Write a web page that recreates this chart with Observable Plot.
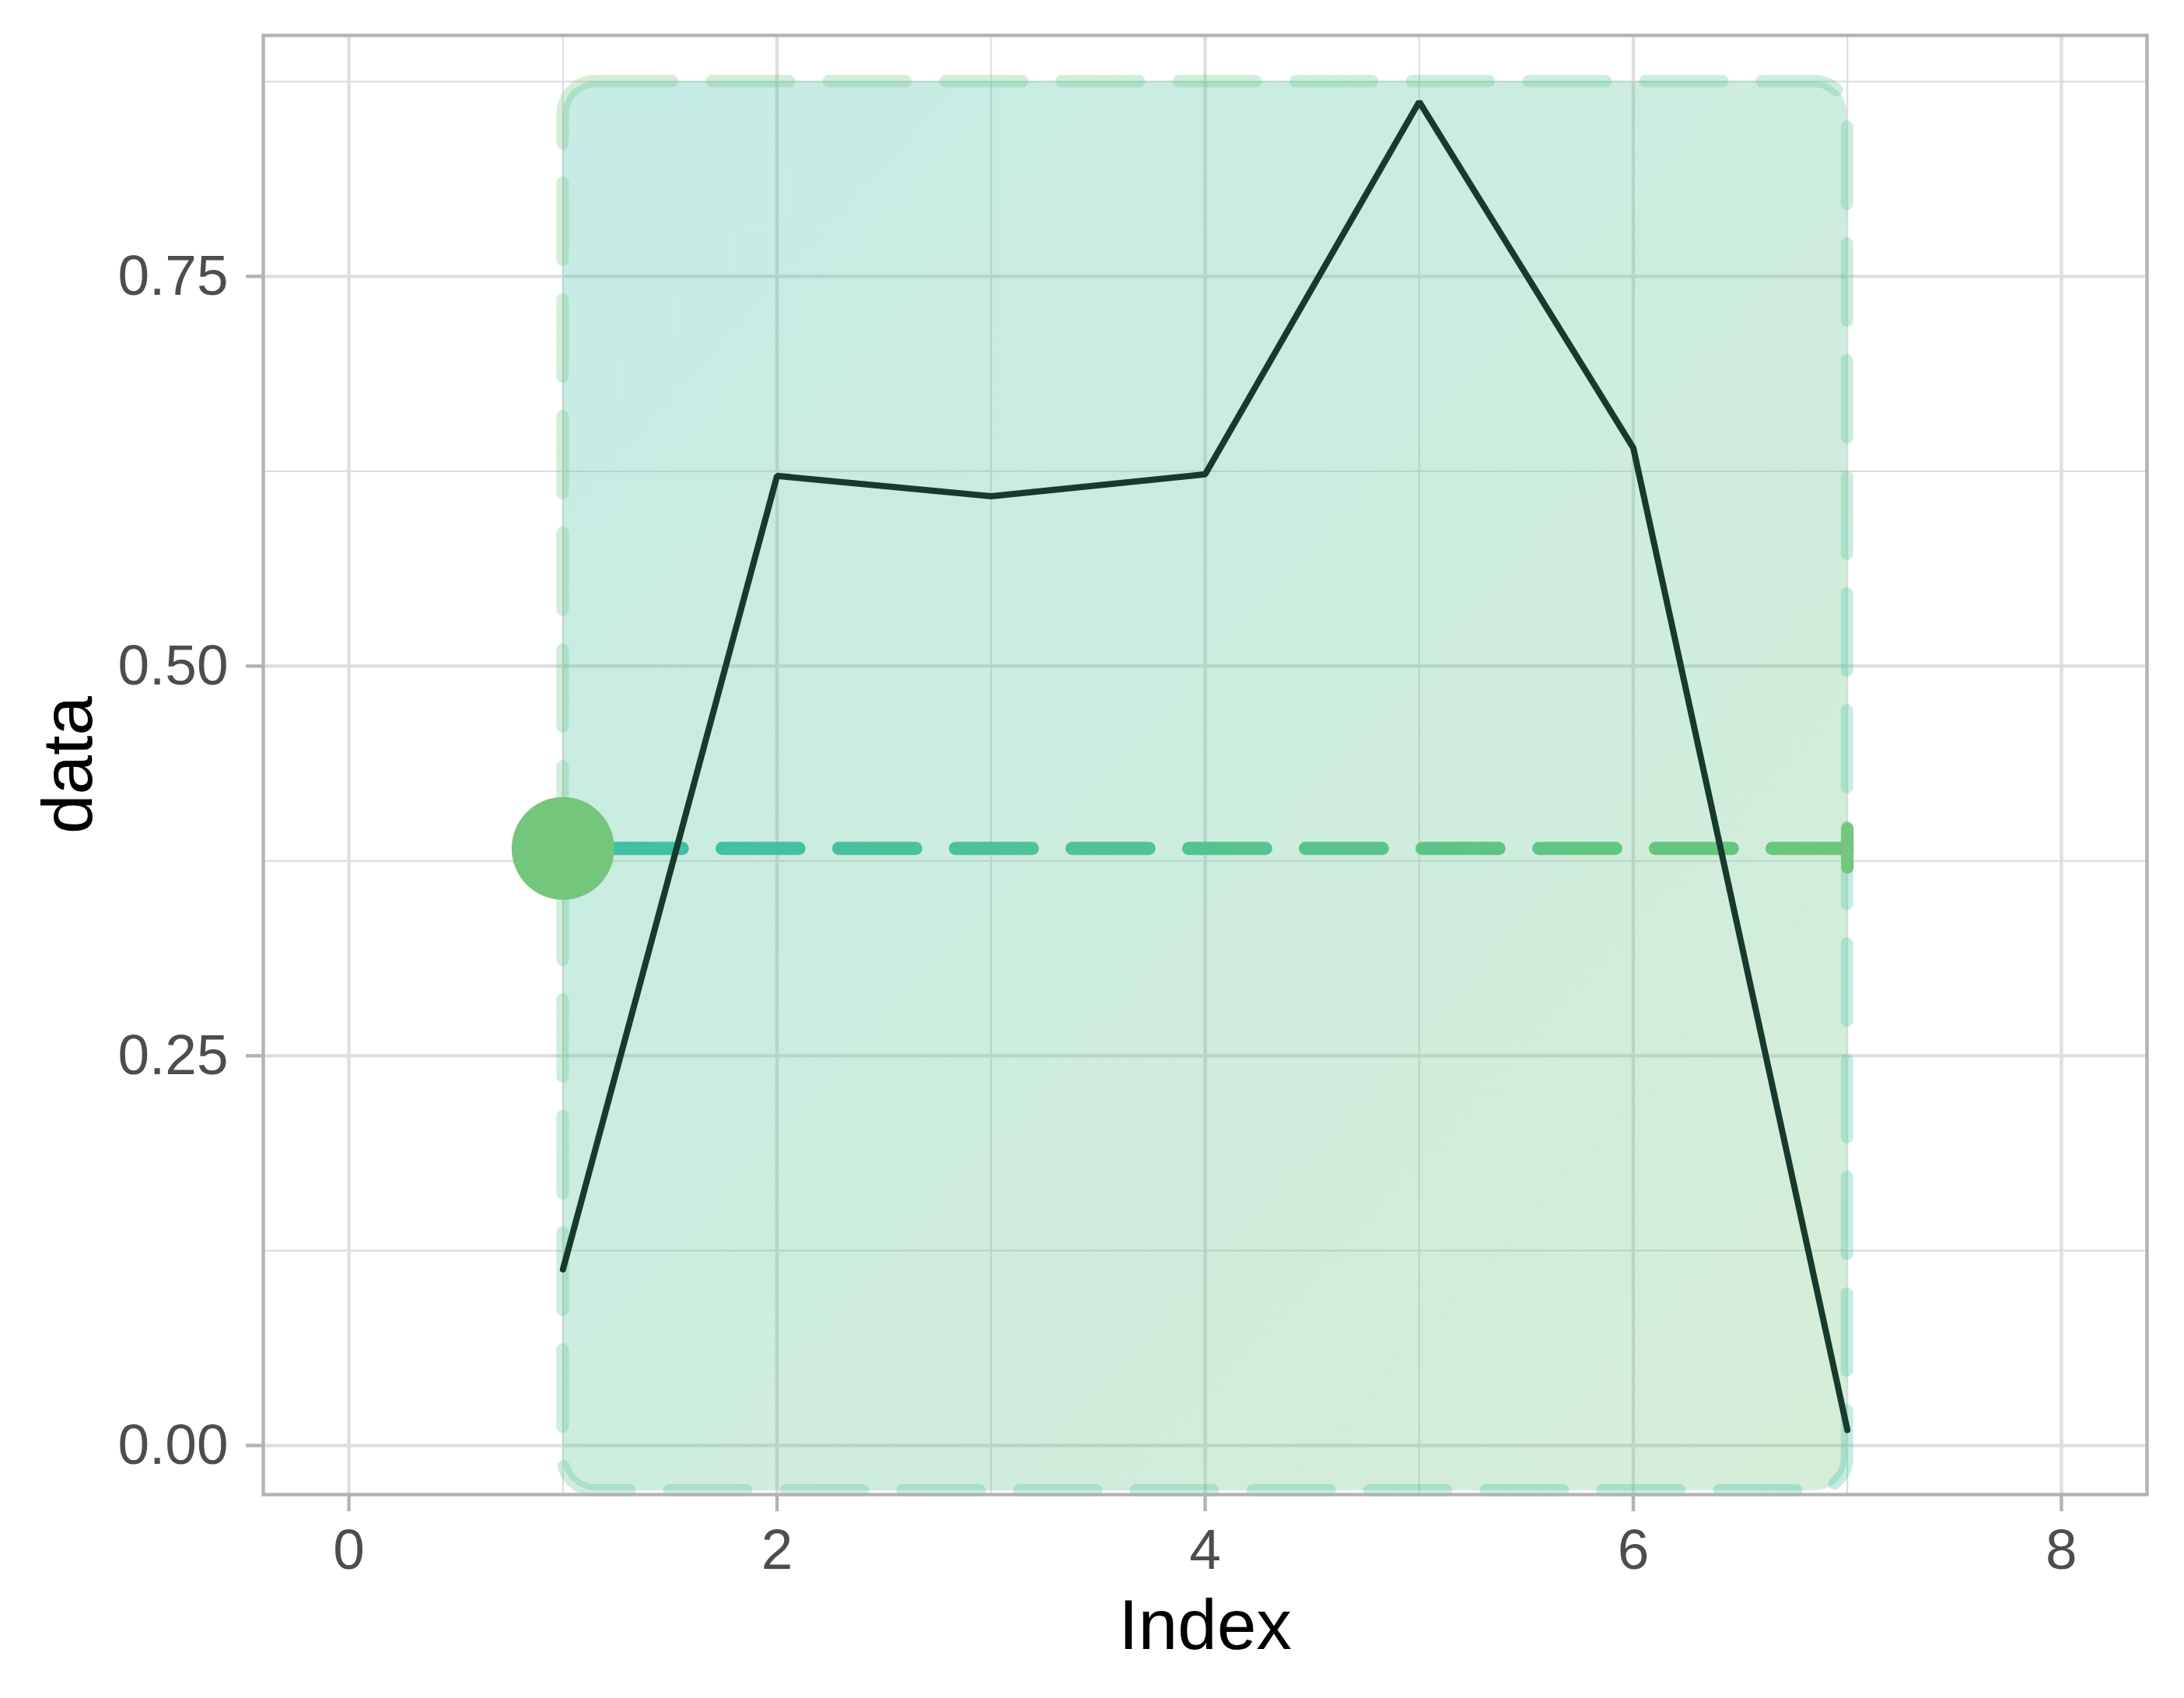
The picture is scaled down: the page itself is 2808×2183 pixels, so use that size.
<!DOCTYPE html>
<html>
<head>
<meta charset="utf-8">
<script src="https://cdn.jsdelivr.net/npm/d3@7"></script>
<script src="https://cdn.jsdelivr.net/npm/@observablehq/plot@0.6"></script>
<style>
  html, body { margin: 0; padding: 0; background: #ffffff; }
  #chart { width: 2808px; height: 2183px; }
</style>
</head>
<body>
<div id="chart"></div>
<script>
// ---- data ----
const index = [1, 2, 3, 4, 5, 6, 7];
const values = [0.113, 0.622, 0.609, 0.623, 0.862, 0.640, 0.010];

const xTicks = [0, 2, 4, 6, 8];
const xMinor = [1, 3, 5, 7];
const yTicks = [0, 0.25, 0.5, 0.75];
const yMinor = [0.125, 0.375, 0.625, 0.875];
const xDomain = [-0.4, 8.4];
const yDomain = [-0.0315, 0.9046];

// highlighted band (rounded rectangle)
const bandX = [1, 7];
const bandY = [-0.029, 0.875];

// horizontal dashed segment with point start and bar end
const segX = [1, 7];
const segY = [0.383, 0.383];
const capHalf = [0.0125];

const xLabel = "Index";
const yLabel = "data";

// ---- tables built from the arrays ----
const lineData = index.map((x, i) => ({x, y: values[i]}));
const bandData = [{x1: bandX[0], x2: bandX[1], y1: bandY[0], y2: bandY[1]}];
const segData = [{x1: segX[0], x2: segX[1], y1: segY[0], y2: segY[1]}];
const startPoint = [{x: segX[0], y: segY[0]}];
const endCap = [{x: segX[1], y1: segY[1] - capHalf[0], y2: segY[1] + capHalf[0]}];

const grid = "#dedede";
const border = "#b3b3b3";
const font = "'Liberation Sans', Arial, Helvetica, sans-serif";

const plot = Plot.plot({
  width: 2808,
  height: 2183,
  marginLeft: 338,
  marginRight: 48,
  marginTop: 45,
  marginBottom: 262,
  style: {fontFamily: font, background: "#ffffff", overflow: "visible"},
  x: {domain: xDomain, ticks: xTicks},
  y: {domain: yDomain, ticks: yTicks},
  marks: [
    Plot.gridX(xMinor, {stroke: grid, strokeOpacity: 1, strokeWidth: 2.2}),
    Plot.gridY(yMinor, {stroke: grid, strokeOpacity: 1, strokeWidth: 2.2}),
    Plot.gridX(xTicks, {stroke: grid, strokeOpacity: 1, strokeWidth: 4.4}),
    Plot.gridY(yTicks, {stroke: grid, strokeOpacity: 1, strokeWidth: 4.4}),
    Plot.rect(bandData, {
      x1: "x1", x2: "x2", y1: "y1", y2: "y2",
      rx: 42, ry: 42,
      fill: "url(#bandFill)", fillOpacity: 0.3,
      stroke: "url(#bandStroke)", strokeOpacity: 0.3,
      strokeWidth: 16, strokeDasharray: "99,51", strokeLinecap: "round"
    }),
    Plot.link(segData, {
      x1: "x1", x2: "x2", y1: "y1", y2: "y2",
      stroke: "url(#segStroke)", strokeWidth: 17,
      strokeDasharray: "99,51", strokeDashoffset: 95.5, strokeLinecap: "round"
    }),
    Plot.ruleX(endCap, {x: "x", y1: "y1", y2: "y2", stroke: "#72c77c", strokeWidth: 16, strokeLinecap: "round"}),
    Plot.dot(startPoint, {x: "x", y: "y", r: 66, fill: "#74c67c", stroke: "none"}),
    Plot.line(lineData, {x: "x", y: "y", stroke: "#163a2c", strokeWidth: 8, strokeLinejoin: "miter"}),
    Plot.frame({stroke: border, strokeWidth: 4.4}),
    Plot.axisX(xTicks, {
      tickSize: 22, tickPadding: 22, fontSize: 73,
      stroke: border, strokeWidth: 4.4, fill: "#4d4d4d", label: null,
      tickFormat: d3.format("d")
    }),
    Plot.axisY(yTicks, {
      tickSize: 22, tickPadding: 23, fontSize: 73,
      stroke: border, strokeWidth: 4.4, fill: "#4d4d4d", label: null,
      tickFormat: d3.format(".2f")
    }),
    Plot.text([xLabel], {
      text: d => d, frameAnchor: "bottom", lineAnchor: "bottom", textAnchor: "middle",
      dy: 198, fontSize: 91, fill: "#000000"
    }),
    Plot.text([yLabel], {
      text: d => d, frameAnchor: "left", lineAnchor: "bottom", textAnchor: "middle", rotate: -90,
      dx: -221, fontSize: 91, fill: "#000000"
    })
  ]
});

// gradients
const xs = plot.scale("x");
const ns = "http://www.w3.org/2000/svg";
const defs = document.createElementNS(ns, "defs");
function grad(id, x1, y1, x2, y2, c1, c2, user) {
  const g = document.createElementNS(ns, "linearGradient");
  g.setAttribute("id", id);
  if (user) g.setAttribute("gradientUnits", "userSpaceOnUse");
  g.setAttribute("x1", x1); g.setAttribute("y1", y1);
  g.setAttribute("x2", x2); g.setAttribute("y2", y2);
  [[0, c1], [1, c2]].forEach(([o, c]) => {
    const s = document.createElementNS(ns, "stop");
    s.setAttribute("offset", o);
    s.setAttribute("stop-color", c);
    g.appendChild(s);
  });
  defs.appendChild(g);
}
grad("bandFill", 0, 0, 1, 1, "#3dbfa8", "#74c67c", false);
grad("bandStroke", 0, 0, 1, 1, "#74c67c", "#3dbfa8", false);
grad("segStroke", xs.apply(segX[0]), 0, xs.apply(segX[1]), 0, "#3dbfa8", "#6cc77a", true);
plot.insertBefore(defs, plot.firstChild);

document.getElementById("chart").appendChild(plot);
</script>
</body>
</html>
